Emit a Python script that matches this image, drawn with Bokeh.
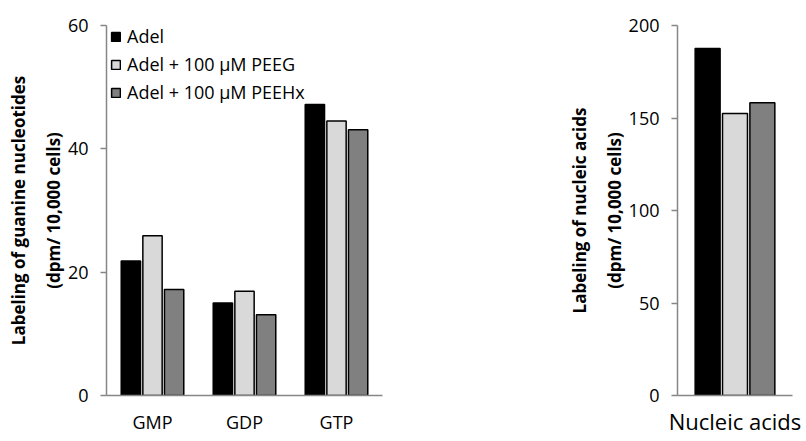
from bokeh.plotting import figure
from bokeh.layouts import row
from bokeh.models import Range1d, FixedTicker, Legend, LegendItem, ColumnDataSource
from bokeh.transform import dodge
from bokeh.embed import file_html
from bokeh.resources import INLINE

# ---- data ----
categories = ["GMP", "GDP", "GTP"]
adel = [21.8, 15.0, 47.2]
adel_peeg = [25.9, 16.9, 44.5]
adel_peehx = [17.2, 13.1, 43.1]

nucleic_categories = ["Nucleic acids"]
nucleic_adel = [187.6]
nucleic_peeg = [152.4]
nucleic_peehx = [158.3]

series_labels = ["Adel", "Adel + 100 \u00b5M PEEG", "Adel + 100 \u00b5M PEEHx"]
left_ticks = [0, 20, 40, 60]
right_ticks = [0, 50, 100, 150, 200]

# ---- style ----
FONT = "Open Sans"
COLORS = ["#000000", "#d9d9d9", "#808080"]
AXIS_COLOR = "#868686"
OFFSET = 0.235


def style_axes(p, yticks, label, xlabel_size, xstandoff):
    p.grid.visible = False
    p.outline_line_color = None
    p.background_fill_color = "white"
    p.border_fill_color = "white"
    ya = p.yaxis[0]
    ya.ticker = FixedTicker(ticks=yticks)
    ya.axis_line_color = AXIS_COLOR
    ya.axis_line_width = 1.5
    ya.major_tick_line_color = AXIS_COLOR
    ya.major_tick_line_width = 1.5
    ya.major_tick_out = 6
    ya.major_tick_in = 0
    ya.minor_tick_line_color = None
    ya.major_label_text_font = FONT
    ya.major_label_text_font_size = "18px"
    ya.major_label_text_color = "#000000"
    ya.major_label_standoff = 12
    ya.axis_label = label
    ya.axis_label_text_font = FONT
    ya.axis_label_text_font_style = "bold"
    ya.axis_label_text_font_size = "17px"
    ya.axis_label_text_line_height = 1.5
    ya.axis_label_text_color = "#000000"
    ya.axis_label_standoff = 0
    xa = p.xaxis[0]
    xa.axis_line_color = AXIS_COLOR
    xa.axis_line_width = 1.5
    xa.major_tick_line_color = None
    xa.major_tick_out = 0
    xa.major_tick_in = 0
    xa.minor_tick_line_color = None
    xa.major_label_text_font = FONT
    xa.major_label_text_font_size = xlabel_size
    xa.major_label_text_color = "#000000"
    xa.major_label_standoff = xstandoff


# ---- left chart ----
src1 = ColumnDataSource(dict(x=list(range(len(categories))), a=adel, b=adel_peeg, c=adel_peehx))
p1 = figure(width=560, height=441, min_border_left=106, min_border_right=178,
            min_border_top=24, min_border_bottom=46,
            x_range=Range1d(-0.5, len(categories) - 0.5), y_range=Range1d(0, 60),
            output_backend="svg", toolbar_location=None)
renderers = []
for col, off, color in zip(["a", "b", "c"], [-OFFSET, 0, OFFSET], COLORS):
    r = p1.vbar(x=dodge("x", off), top=col, width=0.21, source=src1,
                fill_color=color, line_color="#000000", line_width=1.5)
    renderers.append(r)
style_axes(p1, left_ticks, "Labeling of guanine nucleotides\n(dpm/ 10,000 cells)", "18px", 14)
p1.xaxis[0].ticker = FixedTicker(ticks=list(range(len(categories))))
p1.xaxis[0].major_label_overrides = {i: c for i, c in enumerate(categories)}

legend = Legend(items=[LegendItem(label=l, renderers=[r]) for l, r in zip(series_labels, renderers)],
                location=(4, 291), padding=0, margin=0, spacing=4,
                glyph_width=11, glyph_height=11, label_standoff=6, label_height=20,
                background_fill_alpha=0, border_line_color=None,
                label_text_font=FONT, label_text_font_size="18px", label_text_color="#000000")
p1.add_layout(legend)

# ---- right chart ----
src2 = ColumnDataSource(dict(x=list(range(len(nucleic_categories))), a=nucleic_adel, b=nucleic_peeg, c=nucleic_peehx))
p2 = figure(width=246, height=441, min_border_left=117, min_border_right=14,
            min_border_top=25, min_border_bottom=44,
            x_range=Range1d(-0.5, 0.5), y_range=Range1d(0, 200),
            output_backend="svg", toolbar_location=None)
for col, off, color in zip(["a", "b", "c"], [-0.238, 0, 0.238], COLORS):
    p2.vbar(x=dodge("x", off), top=col, width=0.217, source=src2,
            fill_color=color, line_color="#000000", line_width=1.5)
style_axes(p2, right_ticks, "Labeling of nucleic acids\n(dpm/ 10,000 cells)", "22px", 10)
p2.xaxis[0].ticker = FixedTicker(ticks=[0])
p2.xaxis[0].major_label_overrides = {0: nucleic_categories[0]}

layout = row(p1, p2)
open("out.html", "w").write(file_html(layout, INLINE))
